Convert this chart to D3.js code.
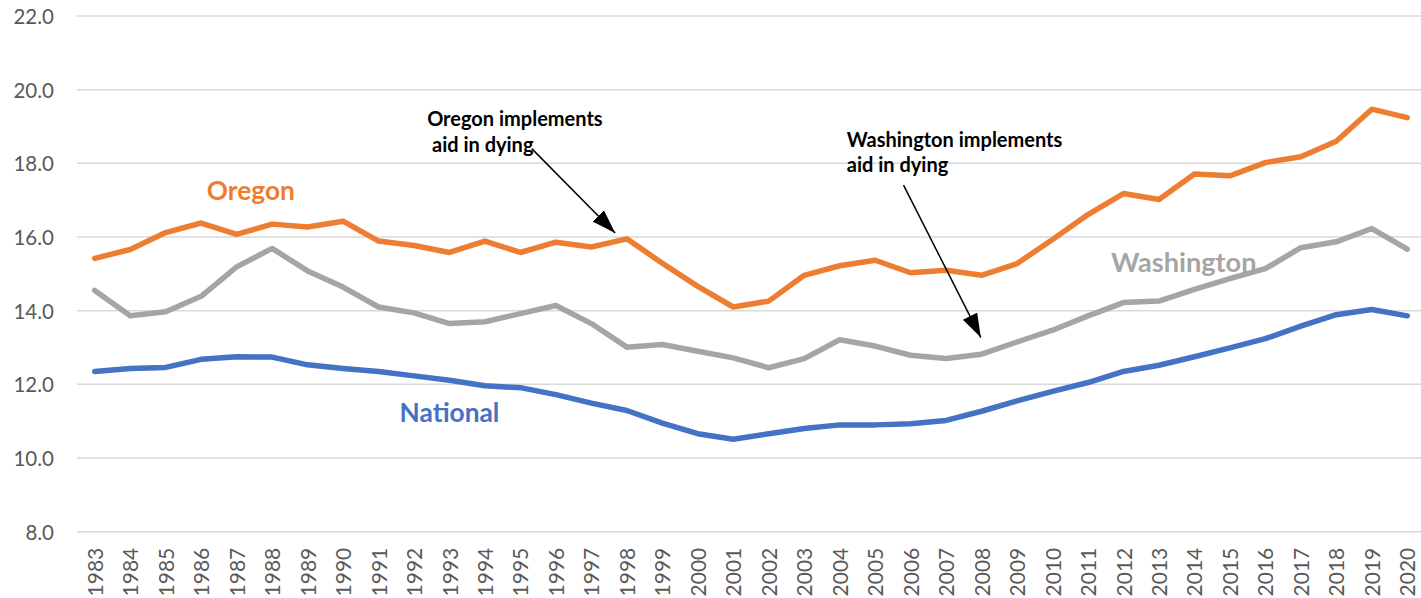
<!DOCTYPE html>
<html>
<head>
<meta charset="utf-8">
<script src="https://cdn.jsdelivr.net/npm/d3@7"></script>
<style>
    body { margin: 0; background: #fff; }
    text { font-family: Lato, "Noto Sans", sans-serif; }
</style>
</head>
<body>
<svg id="drawing_region"></svg>
<script>
const years = d3.range(1983, 2021);

const oregon = [15.42, 15.66, 16.12, 16.38, 16.07, 16.35, 16.27, 16.43, 15.89, 15.77,
    15.58, 15.89, 15.58, 15.86, 15.73, 15.95, 15.29, 14.66, 14.10, 14.26,
    14.96, 15.22, 15.37, 15.03, 15.10, 14.96, 15.28, 15.93, 16.61, 17.18,
    17.02, 17.71, 17.66, 18.02, 18.18, 18.60, 19.47, 19.24];

const washington = [14.55, 13.86, 13.97, 14.39, 15.19, 15.69, 15.08, 14.64, 14.10, 13.94,
    13.65, 13.70, 13.92, 14.14, 13.65, 13.01, 13.08, 12.90, 12.72, 12.45,
    12.70, 13.21, 13.04, 12.79, 12.70, 12.82, 13.15, 13.47, 13.86, 14.22,
    14.26, 14.58, 14.87, 15.14, 15.71, 15.87, 16.23, 15.67];

const national = [12.35, 12.43, 12.46, 12.68, 12.75, 12.74, 12.53, 12.43, 12.35, 12.23,
    12.11, 11.96, 11.91, 11.72, 11.49, 11.29, 10.95, 10.66, 10.51, 10.66,
    10.80, 10.90, 10.90, 10.93, 11.02, 11.27, 11.55, 11.81, 12.05, 12.35,
    12.52, 12.75, 12.99, 13.24, 13.58, 13.89, 14.03, 13.86];

const yticks = [8, 10, 12, 14, 16, 18, 20, 22];

const series = [
    { name: 'Oregon', values: oregon, color: '#ED7D31', label: [1987.4, 17.0] },
    { name: 'Washington', values: washington, color: '#A5A5A5', label: [2013.7, 15.05] },
    { name: 'National', values: national, color: '#4472C4', label: [1993.0, 10.98] }
];

// text lines + arrow (start, end) in data units
const notes = [
    { lines: ['Oregon implements', ' aid in dying'], at: [1992.37, 19.01], arrow: [[1995.32, 18.40], [1997.67, 16.11]] },
    { lines: ['Washington implements', 'aid in dying'], at: [2004.2, 18.45], arrow: [[2005.8, 17.41], [2007.98, 13.27]] }
];

class LineChart {

    constructor( config ) {
        this.config = config;
        this.init();
    }

    init() {
        let self = this;

        self.svg = d3.select( self.config.parent )
            .attr('width', self.config.width)
            .attr('height', self.config.height);

        self.xscale = d3.scaleLinear()
            .domain([years[0] - 0.5, years[years.length - 1] + 0.5])
            .range([77, 1425]);

        self.yscale = d3.scaleLinear()
            .domain([8, 22])
            .range([531.7, 16]);
    }

    render() {
        let self = this;
        const x = self.xscale, y = self.yscale;

        // gridlines
        self.svg.append('g')
            .selectAll('line')
            .data(yticks)
            .join('line')
            .attr('x1', x.range()[0])
            .attr('x2', x.range()[1])
            .attr('y1', d => y(d))
            .attr('y2', d => y(d))
            .attr('stroke', '#D9D9D9')
            .attr('stroke-width', 1.5);

        // y axis labels
        const yaxis = d3.axisLeft(y)
            .tickValues(yticks)
            .tickFormat(d3.format('.1f'))
            .tickSize(0)
            .tickPadding(0);
        self.svg.append('g')
            .attr('transform', 'translate(54,0)')
            .call(yaxis)
            .call(g => g.select('.domain').remove())
            .selectAll('text')
            .attr('font-family', 'Lato, sans-serif')
            .attr('font-size', 20.5)
            .attr('fill', '#595959')
            .attr('dy', '0.36em');

        // x axis labels
        const xaxis = d3.axisBottom(x)
            .tickValues(years)
            .tickFormat(d3.format('d'))
            .tickSize(0);
        self.svg.append('g')
            .attr('transform', `translate(0, ${y(8)})`)
            .call(xaxis)
            .call(g => g.select('.domain').remove())
            .selectAll('text')
            .attr('font-family', 'Lato, sans-serif')
            .attr('font-size', 21)
            .attr('fill', '#595959')
            .attr('text-anchor', 'end')
            .attr('transform', 'rotate(-90)')
            .attr('x', -16)
            .attr('y', 0)
            .attr('dy', '0.36em');

        // lines
        const line = d3.line()
            .x((d, i) => x(years[i]))
            .y(d => y(d));

        self.svg.append('g')
            .selectAll('path')
            .data(series)
            .join('path')
            .attr('d', d => line(d.values))
            .attr('fill', 'none')
            .attr('stroke', d => d.color)
            .attr('stroke-width', 5.5)
            .attr('stroke-linejoin', 'round')
            .attr('stroke-linecap', 'round');

        // series labels
        self.svg.append('g')
            .selectAll('text')
            .data(series)
            .join('text')
            .attr('x', d => x(d.label[0]))
            .attr('y', d => y(d.label[1]))
            .attr('text-anchor', 'middle')
            .attr('font-size', d => d.name === 'Washington' ? 27.2 : 26.3)
            .attr('font-weight', 'bold')
            .attr('fill', d => d.color)
            .text(d => d.name);

        // annotations
        self.svg.append('defs').append('marker')
            .attr('id', 'arrowhead')
            .attr('markerUnits', 'userSpaceOnUse')
            .attr('markerWidth', 25)
            .attr('markerHeight', 17)
            .attr('refX', 24)
            .attr('refY', 8)
            .attr('orient', 'auto')
            .append('path')
            .attr('d', 'M0,0 L24,8 L0,16 Z')
            .attr('fill', '#000');

        const ng = self.svg.append('g')
            .selectAll('g')
            .data(notes)
            .join('g');

        ng.selectAll('text')
            .data(d => d.lines.map((t, i) => ({ t: t, i: i, at: d.at })))
            .join('text')
            .attr('x', d => x(d.at[0]))
            .attr('y', d => y(d.at[1]) + d.i * 25.5)
            .attr('font-size', 20)
            .attr('font-weight', 'bold')
            .attr('fill', '#000')
            .attr('xml:space', 'preserve')
            .style('white-space', 'pre')
            .text(d => d.t);

        ng.append('line')
            .attr('x1', d => x(d.arrow[0][0]))
            .attr('y1', d => y(d.arrow[0][1]))
            .attr('x2', d => x(d.arrow[1][0]))
            .attr('y2', d => y(d.arrow[1][1]))
            .attr('stroke', '#000')
            .attr('stroke-width', 1.5)
            .attr('marker-end', 'url(#arrowhead)');
    }
}

const config = {
    parent: '#drawing_region',
    width: 1421,
    height: 598
};

const chart = new LineChart( config );
chart.render();
</script>
</body>
</html>
